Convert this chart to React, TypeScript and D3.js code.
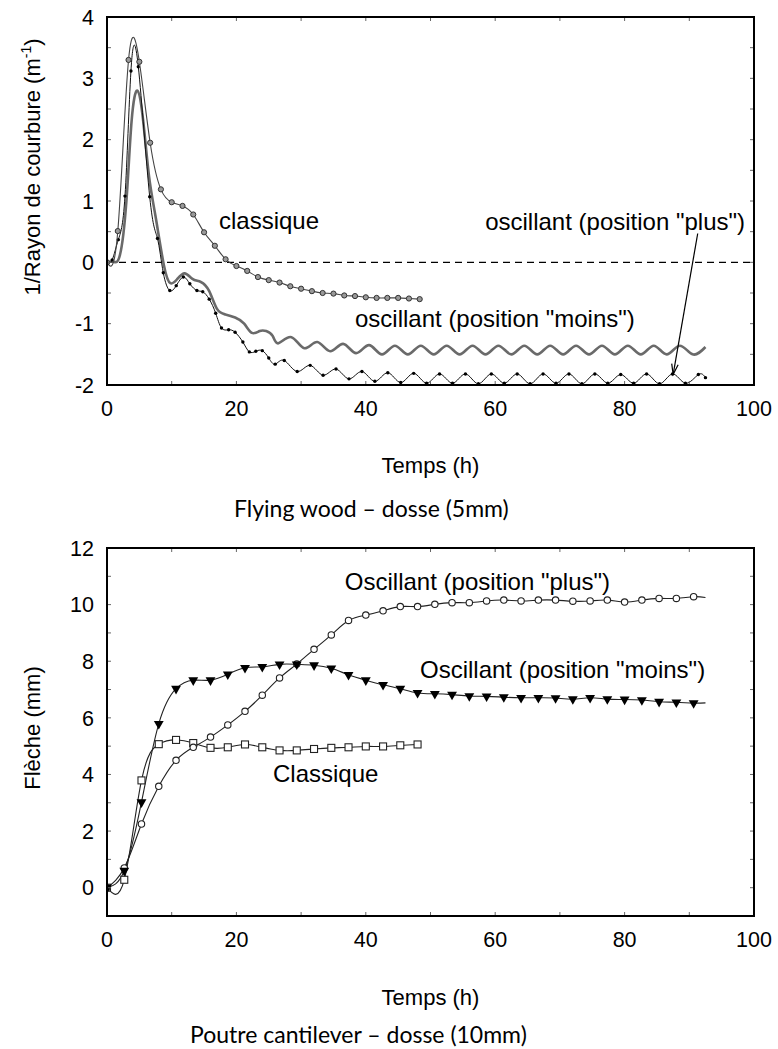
import React from "react";
import * as d3 from "d3";

type P = [number, number];

// ---------- Shared axis ticks ----------
const X_TICKS = [0, 20, 40, 60, 80, 100];
const X_MINOR = [0, 10, 20, 30, 40, 50, 60, 70, 80, 90, 100];
const TOP_Y_TICKS = [-2, -1, 0, 1, 2, 3, 4];
const TOP_Y_MINOR = [-2, -1.5, -1, -0.5, 0, 0.5, 1, 1.5, 2, 2.5, 3, 3.5, 4];
const BOT_Y_TICKS = [0, 2, 4, 6, 8, 10, 12];
const BOT_Y_MINOR = [-1, 0, 1, 2, 3, 4, 5, 6, 7, 8, 9, 10, 11, 12];

// ---------- Top chart (Flying wood) ----------
const topClassique: P[] = [
  [0, 0], [1.67, 0.51], [3.33, 3.3], [5, 3.27], [6.67, 1.95], [8.33, 1.19], [10, 0.98],
  [11.67, 0.92], [13.33, 0.78], [15, 0.49], [16.67, 0.27], [18.33, 0.05], [20, -0.06],
  [21.67, -0.14], [23.33, -0.24], [25, -0.29], [26.67, -0.33], [28.33, -0.39], [30, -0.43],
  [31.67, -0.47], [33.33, -0.5], [35, -0.51], [36.67, -0.54], [38.33, -0.55], [40, -0.57],
  [41.67, -0.58], [43.33, -0.58], [45, -0.58], [46.67, -0.59], [48.33, -0.6],
];

const topPlus: P[] = [
  [0, 0], [0.8, 0.04], [1.75, 0.37], [2.78, 1.08], [3.7, 3.12], [4.84, 3.19], [6.6, 1.07],
  [7.8, 0.39], [8.7, -0.17], [9.7, -0.46], [10.7, -0.38], [11.8, -0.24], [12.8, -0.35],
  [13.9, -0.46], [14.8, -0.48], [15.8, -0.6], [16.8, -0.83], [17.7, -1.07], [18.8, -1.1],
  [19.8, -1.14], [21.0, -1.3], [22.0, -1.46], [23.0, -1.45], [24.0, -1.44], [25.0, -1.56],
  [26.0, -1.66], [27.4, -1.6], [29.4, -1.78], [31.4, -1.68], [33.4, -1.84], [35.4, -1.74],
  [37.4, -1.9], [39.4, -1.78], [41.4, -1.94], [43.4, -1.8], [45.4, -1.96], [47.4, -1.81],
  [49.4, -1.97], [51.4, -1.82], [53.4, -1.97], [55.4, -1.82], [57.4, -1.98], [59.4, -1.82],
  [61.4, -1.97], [63.4, -1.82], [65.4, -1.98], [67.4, -1.82], [69.4, -1.97], [71.4, -1.82],
  [73.4, -1.98], [75.4, -1.82], [77.4, -1.97], [79.4, -1.83], [81.4, -1.97], [83.4, -1.82],
  [85.4, -1.98], [87.4, -1.82], [89.4, -1.97], [91.4, -1.83], [92.5, -1.88],
];

const topMoins: P[] = [
  [0, 0], [1, 0.01], [2, 0.12], [3, 1.0], [3.8, 2.3], [4.7, 2.8], [5.6, 2.3], [6.5, 1.4],
  [7.5, 0.75], [8.8, -0.05], [9.8, -0.34], [10.8, -0.28], [12.0, -0.18], [13.2, -0.27],
  [14.5, -0.32], [15.8, -0.47], [17.0, -0.76], [18.3, -0.85], [19.8, -0.9], [21.2, -1.0],
  [22.4, -1.15], [23.6, -1.12], [24.6, -1.12], [25.6, -1.2], [26.5, -1.32], [28.5, -1.22],
  [30.5, -1.4], [32.5, -1.3], [34.5, -1.45], [36.5, -1.33], [38.5, -1.48], [40.5, -1.35],
  [42.5, -1.5], [44.5, -1.36], [46.5, -1.5], [48.5, -1.36], [50.5, -1.5], [52.5, -1.36],
  [54.5, -1.5], [56.5, -1.36], [58.5, -1.5], [60.5, -1.36], [62.5, -1.5], [64.5, -1.36],
  [66.5, -1.5], [68.5, -1.36], [70.5, -1.5], [72.5, -1.36], [74.5, -1.5], [76.5, -1.36],
  [78.5, -1.5], [80.5, -1.36], [82.5, -1.5], [84.5, -1.36], [86.5, -1.5], [88.5, -1.36],
  [90.5, -1.5], [92.5, -1.38],
];

const topArrow: P[] = [[91.3, 0.47], [87.5, -1.83]];

// ---------- Bottom chart (Poutre cantilever) ----------
const botClassique: P[] = [
  [0, 0], [2.67, 0.28], [5.33, 3.79], [8, 5.07], [10.67, 5.22], [13.33, 5.11], [16, 4.94],
  [18.67, 4.96], [21.33, 5.06], [24, 4.96], [26.67, 4.85], [29.33, 4.85], [32, 4.9],
  [34.67, 4.94], [37.33, 4.96], [40, 4.99], [42.67, 4.99], [45.33, 5.03], [48, 5.06],
];

const botMoins: P[] = [
  [0, 0], [2.67, 0.6], [5.33, 3.02], [8, 5.79], [10.67, 7.03], [13.33, 7.33], [16, 7.33],
  [18.67, 7.54], [21.33, 7.77], [24, 7.8], [26.67, 7.89], [29.33, 7.89], [32, 7.86],
  [34.67, 7.75], [37.33, 7.52], [40, 7.33], [42.67, 7.17], [45.33, 7.03], [48, 6.88],
  [50.67, 6.85], [53.33, 6.82], [56, 6.77], [58.67, 6.76], [61.33, 6.73], [64, 6.71],
  [66.67, 6.71], [69.33, 6.7], [72, 6.66], [74.67, 6.71], [77.33, 6.66], [80, 6.65],
  [82.67, 6.63], [85.33, 6.57], [88, 6.55], [90.67, 6.52], [92.5, 6.53],
];

const botPlus: P[] = [
  [0, 0], [2.67, 0.7], [5.33, 2.25], [8, 3.58], [10.67, 4.5], [13.33, 4.96], [16, 5.32],
  [18.67, 5.75], [21.33, 6.23], [24, 6.8], [26.67, 7.41], [29.33, 7.9], [32, 8.42],
  [34.67, 8.93], [37.33, 9.44], [40, 9.63], [42.67, 9.78], [45.33, 9.93], [48, 9.93],
  [50.67, 10.01], [53.33, 10.07], [56, 10.07], [58.67, 10.13], [61.33, 10.16], [64, 10.13],
  [66.67, 10.16], [69.33, 10.16], [72, 10.12], [74.67, 10.13], [77.33, 10.16], [80, 10.09],
  [82.67, 10.16], [85.33, 10.22], [88, 10.22], [90.67, 10.28], [92.5, 10.25],
];

const AXIS_FONT = "'Liberation Sans', Arial, sans-serif";
const TITLE_FONT = "Lato, 'Open Sans', sans-serif";

const W = 778;
const H = 1049;
const LEFT = 107;
const RIGHT = 754;
const TICK_FS = 21.5;
const LABEL_FS = 24;

type Box = { top: number; bottom: number };

function Frame({ box, x, y, yMajor, yMinor }: { box: Box; x: d3.ScaleLinear<number, number>; y: d3.ScaleLinear<number, number>; yMajor: number[]; yMinor: number[] }) {
  const tl = 4;
  return (
    <g>
      {X_MINOR.map((t) => (
        <g key={"xm" + t} stroke="#666" strokeWidth={1}>
          <line x1={x(t)} x2={x(t)} y1={box.bottom} y2={box.bottom - tl} />
          <line x1={x(t)} x2={x(t)} y1={box.top} y2={box.top + tl} />
        </g>
      ))}
      {yMinor.map((t) => (
        <g key={"ym" + t} stroke="#666" strokeWidth={1}>
          <line x1={LEFT} x2={LEFT + tl} y1={y(t)} y2={y(t)} />
          <line x1={RIGHT} x2={RIGHT - tl} y1={y(t)} y2={y(t)} />
        </g>
      ))}
      <rect x={LEFT} y={box.top} width={RIGHT - LEFT} height={box.bottom - box.top} fill="none" stroke="#000" strokeWidth={2} />
      {X_TICKS.map((t) => (
        <text key={"xl" + t} x={x(t)} y={box.bottom + 31} textAnchor="middle" fontFamily={AXIS_FONT} fontSize={TICK_FS} fill="#000">
          {t}
        </text>
      ))}
      {yMajor.map((t) => (
        <text key={"yl" + t} x={94} y={y(t)} dy="0.36em" textAnchor="end" fontFamily={AXIS_FONT} fontSize={TICK_FS} fill="#000">
          {t}
        </text>
      ))}
    </g>
  );
}

export default function App() {
  const topBox: Box = { top: 17, bottom: 385 };
  const botBox: Box = { top: 548, bottom: 916 };

  const xT = d3.scaleLinear().domain([0, 100]).range([LEFT, RIGHT]);
  const yT = d3.scaleLinear().domain([-2, 4]).range([topBox.bottom, topBox.top]);
  const xB = d3.scaleLinear().domain([0, 100]).range([LEFT, RIGHT]);
  const yB = d3.scaleLinear().domain([-1, 12]).range([botBox.bottom, botBox.top]);

  const lineT = d3.line<P>().x((d) => xT(d[0])).y((d) => yT(d[1])).curve(d3.curveNatural);
  const lineB = d3.line<P>().x((d) => xB(d[0])).y((d) => yB(d[1])).curve(d3.curveNatural);

  const tri = d3.symbol().type(d3.symbolTriangle).size(42)() as string;

  // arrow geometry (from data coordinates)
  const ax0 = xT(topArrow[0][0]);
  const ay0 = yT(topArrow[0][1]);
  const ax1 = xT(topArrow[1][0]);
  const ay1 = yT(topArrow[1][1]);
  const ang = Math.atan2(ay0 - ay1, ax0 - ax1);
  const hl = 11;
  const ha = 0.3;
  const h1: P = [ax1 + hl * Math.cos(ang + ha), ay1 + hl * Math.sin(ang + ha)];
  const h2: P = [ax1 + hl * Math.cos(ang - ha), ay1 + hl * Math.sin(ang - ha)];

  const labelStyle = { fontFamily: AXIS_FONT, fontSize: LABEL_FS, fill: "#000" } as const;
  const axisTitle = { fontFamily: AXIS_FONT, fontSize: 22, fill: "#000" } as const;

  return (
    <svg width={W} height={H} style={{ position: "absolute", left: 0, top: 0, background: "#fff" }}>
      <rect width={W} height={H} fill="#fff" />

      {/* ================= TOP CHART ================= */}
      <clipPath id="clipT">
        <rect x={LEFT} y={topBox.top} width={RIGHT - LEFT} height={topBox.bottom - topBox.top} />
      </clipPath>
      <line x1={xT(0)} x2={xT(100)} y1={yT(0)} y2={yT(0)} stroke="#000" strokeWidth={1.3} strokeDasharray="7,5" />
      <g clipPath="url(#clipT)">
        <path d={lineT(topMoins) || ""} fill="none" stroke="#6a6a6a" strokeWidth={2.6} />
        <path d={lineT(topPlus) || ""} fill="none" stroke="#111" strokeWidth={1} />
        {topPlus.map((d, i) => (
          <circle key={"tp" + i} cx={xT(d[0])} cy={yT(d[1])} r={1.7} fill="#000" />
        ))}
        <path d={lineT(topClassique) || ""} fill="none" stroke="#444" strokeWidth={1.1} />
        {topClassique.map((d, i) => (
          <circle key={"tc" + i} cx={xT(d[0])} cy={yT(d[1])} r={2.6} fill="#999" stroke="#333" strokeWidth={1} />
        ))}
      </g>
      <line x1={ax0} y1={ay0} x2={ax1} y2={ay1} stroke="#000" strokeWidth={1.2} />
      <polyline points={`${h1[0]},${h1[1]} ${ax1},${ay1} ${h2[0]},${h2[1]}`} fill="none" stroke="#000" strokeWidth={1.2} />

      <Frame box={topBox} x={xT} y={yT} yMajor={TOP_Y_TICKS} yMinor={TOP_Y_MINOR} />

      <text x={219} y={229} {...labelStyle}>classique</text>
      <text x={745} y={230} textAnchor="end" {...labelStyle}>oscillant (position "plus")</text>
      <text x={355} y={327} {...labelStyle}>oscillant (position "moins")</text>

      <text transform="translate(40,167) rotate(-90)" textAnchor="middle" {...axisTitle}>
        1/Rayon de courbure (m
        <tspan dy={-9} fontSize={14}>-1</tspan>
        <tspan dy={9}>)</tspan>
      </text>
      <text x={(LEFT + RIGHT) / 2} y={473} textAnchor="middle" {...axisTitle}>Temps (h)</text>
      <text x={234} y={517} fontFamily={TITLE_FONT} fontSize={23} fill="#000">
        Flying wood – dosse (5mm)
      </text>

      {/* ================= BOTTOM CHART ================= */}
      <clipPath id="clipB">
        <rect x={LEFT} y={botBox.top} width={RIGHT - LEFT} height={botBox.bottom - botBox.top} />
      </clipPath>
      <g clipPath="url(#clipB)">
        <path d={lineB(botClassique) || ""} fill="none" stroke="#222" strokeWidth={1.1} />
        <path d={lineB(botPlus) || ""} fill="none" stroke="#222" strokeWidth={1.1} />
        <path d={lineB(botMoins) || ""} fill="none" stroke="#222" strokeWidth={1.1} />
        {botClassique.map((d, i) => (
          <rect key={"bc" + i} x={xB(d[0]) - 3.5} y={yB(d[1]) - 3.5} width={7} height={7} fill="#fff" stroke="#222" strokeWidth={1.1} />
        ))}
        {botPlus.slice(0, -1).map((d, i) => (
          <circle key={"bp" + i} cx={xB(d[0])} cy={yB(d[1])} r={3.2} fill="#fff" stroke="#222" strokeWidth={1.1} />
        ))}
        {botMoins.slice(0, -1).map((d, i) => (
          <path key={"bm" + i} d={tri} transform={`translate(${xB(d[0])},${yB(d[1])}) rotate(180)`} fill="#000" />
        ))}
      </g>

      <Frame box={botBox} x={xB} y={yB} yMajor={BOT_Y_TICKS} yMinor={BOT_Y_MINOR} />

      <text x={610} y={590} textAnchor="end" {...labelStyle}>Oscillant (position "plus")</text>
      <text x={420} y={678} {...labelStyle}>Oscillant (position "moins")</text>
      <text x={273} y={782} {...labelStyle}>Classique</text>

      <text transform="translate(40,728) rotate(-90)" textAnchor="middle" {...axisTitle}>Flèche (mm)</text>
      <text x={(LEFT + RIGHT) / 2} y={1005} textAnchor="middle" {...axisTitle}>Temps (h)</text>
      <text x={190} y={1043} fontFamily={TITLE_FONT} fontSize={23} fill="#000">
        Poutre cantilever – dosse (10mm)
      </text>
    </svg>
  );
}
